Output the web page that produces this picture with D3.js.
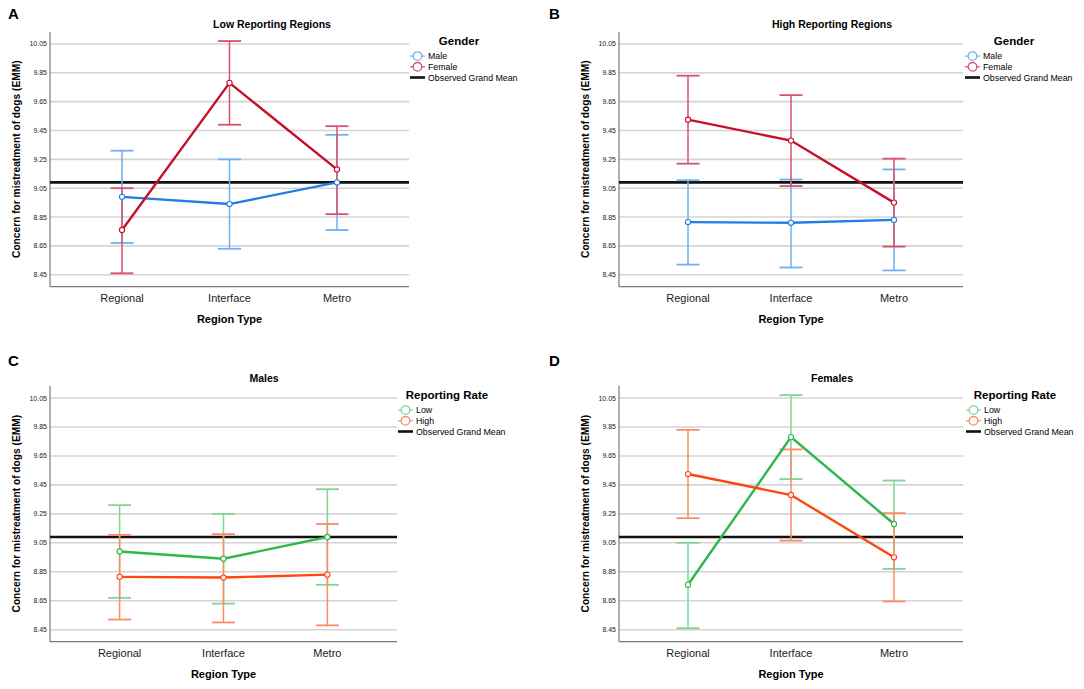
<!DOCTYPE html>
<html>
<head>
<meta charset="utf-8">
<script src="https://cdn.jsdelivr.net/npm/d3@7"></script>
<style>
  body { margin: 0; background: #fff; }
  svg { display: block; font-family: "Liberation Sans", Arial, sans-serif; }
</style>
</head>
<body>
<div id="chart"></div>
<script>
// categories and ticks
var regions = ["Regional", "Interface", "Metro"]
var yTicks = [8.45, 8.65, 8.85, 9.05, 9.25, 9.45, 9.65, 9.85, 10.05]
var grandMean = 9.09

// estimated marginal means with 95% CI
var lowMaleMean = [8.99, 8.94, 9.09]
var lowMaleLower = [8.67, 8.63, 8.76]
var lowMaleUpper = [9.31, 9.25, 9.42]

var lowFemaleMean = [8.76, 9.78, 9.18]
var lowFemaleLower = [8.46, 9.49, 8.87]
var lowFemaleUpper = [9.05, 10.07, 9.48]

var highMaleMean = [8.815, 8.81, 8.83]
var highMaleLower = [8.52, 8.50, 8.48]
var highMaleUpper = [9.105, 9.11, 9.18]

var highFemaleMean = [9.525, 9.38, 8.95]
var highFemaleLower = [9.22, 9.065, 8.645]
var highFemaleUpper = [9.83, 9.695, 9.255]

var blue = { line: "#1f7fe3", bar: "#6fb0ee" }
var red = { line: "#c80f2a", bar: "#d9506a" }
var green = { line: "#2eb84c", bar: "#7ed594" }
var orange = { line: "#ff4510", bar: "#ff8a63" }

function series(name, mean, lower, upper, col) {
    return {
        name: name,
        col: col,
        points: regions.map((r, i) => ({ region: r, mean: mean[i], lower: lower[i], upper: upper[i] }))
    }
}

var panels = [
    { letter: "A", lx: 8, ly: 19, x0: 50, x1: 409, y0: 31.7, y1: 286.7, title: "Low Reporting Regions", tx: 272,
      legTitle: "Gender", legX: 410,
      series: [series("Male", lowMaleMean, lowMaleLower, lowMaleUpper, blue),
               series("Female", lowFemaleMean, lowFemaleLower, lowFemaleUpper, red)] },
    { letter: "B", lx: 549, ly: 19, x0: 619, x1: 963, y0: 31.7, y1: 286.7, title: "High Reporting Regions", tx: 832,
      legTitle: "Gender", legX: 965,
      series: [series("Male", highMaleMean, highMaleLower, highMaleUpper, blue),
               series("Female", highFemaleMean, highFemaleLower, highFemaleUpper, red)] },
    { letter: "C", lx: 8, ly: 366, x0: 50, x1: 397, y0: 385.7, y1: 641.7, title: "Males", tx: 264,
      legTitle: "Reporting Rate", legX: 398,
      series: [series("Low", lowMaleMean, lowMaleLower, lowMaleUpper, green),
               series("High", highMaleMean, highMaleLower, highMaleUpper, orange)] },
    { letter: "D", lx: 549, ly: 366, x0: 619, x1: 963, y0: 385.7, y1: 641.7, title: "Females", tx: 832,
      legTitle: "Reporting Rate", legX: 966,
      series: [series("Low", lowFemaleMean, lowFemaleLower, lowFemaleUpper, green),
               series("High", highFemaleMean, highFemaleLower, highFemaleUpper, orange)] }
]

var svg = d3.select("#chart").append("svg")
            .attr("width", 1084)
            .attr("height", 689)

panels.forEach(p => drawPanel(svg, p))

function drawPanel(svg, p) {
    var x = d3.scalePoint().domain(regions).range([p.x0, p.x1]).padding(0.67)
    var y = d3.scaleLinear().domain([8.367, 10.135]).range([p.y1, p.y0])
    var g = svg.append("g")

    g.append("text").text(p.letter)
        .attr("x", p.lx).attr("y", p.ly)
        .attr("font-size", 15).attr("font-weight", "bold")

    g.append("text").text(p.title)
        .attr("x", p.tx).attr("y", p.y0 - 3.5)
        .attr("text-anchor", "middle")
        .attr("font-size", 10.5).attr("font-weight", "bold")

    // gridlines
    g.selectAll(".grid").data(yTicks).join("line")
        .attr("x1", p.x0).attr("x2", p.x1)
        .attr("y1", d => y(d)).attr("y2", d => y(d))
        .attr("stroke", "#d4d4d4").attr("stroke-width", 1.6)

    // y tick labels
    g.selectAll(".ytick").data(yTicks).join("text")
        .text(d => d3.format(".2f")(d))
        .attr("x", p.x0 - 3).attr("y", d => y(d) + 2.5)
        .attr("text-anchor", "end")
        .attr("font-size", 7).attr("fill", "#222")

    // axes
    g.append("line")
        .attr("x1", p.x0).attr("x2", p.x0).attr("y1", p.y0).attr("y2", p.y1)
        .attr("stroke", "#7a7a7a").attr("stroke-width", 1.2)
    g.append("line")
        .attr("x1", p.x0).attr("x2", p.x1).attr("y1", p.y1).attr("y2", p.y1)
        .attr("stroke", "#7a7a7a").attr("stroke-width", 1.2)

    g.selectAll(".xtick").data(regions).join("text")
        .text(d => d)
        .attr("x", d => x(d)).attr("y", p.y1 + 15)
        .attr("text-anchor", "middle")
        .attr("font-size", 11).attr("fill", "#222")

    g.append("text").text("Region Type")
        .attr("x", (p.x0 + p.x1) / 2).attr("y", p.y1 + 36.5)
        .attr("text-anchor", "middle")
        .attr("font-size", 11).attr("font-weight", "bold")

    g.append("text").text("Concern for mistreatment of dogs (EMM)")
        .attr("transform", "translate(" + (p.x0 - 30.5) + "," + ((p.y0 + p.y1) / 2) + ") rotate(-90)")
        .attr("text-anchor", "middle")
        .attr("font-size", 10.2).attr("font-weight", "bold")

    // grand mean
    g.append("line")
        .attr("x1", p.x0).attr("x2", p.x1)
        .attr("y1", y(grandMean)).attr("y2", y(grandMean))
        .attr("stroke", "#111").attr("stroke-width", 2.6)

    // error bars
    p.series.forEach(s => {
        var eb = g.append("g")
        eb.selectAll(".stem").data(s.points).join("line")
            .attr("x1", d => x(d.region)).attr("x2", d => x(d.region))
            .attr("y1", d => y(d.lower)).attr("y2", d => y(d.upper))
            .attr("stroke", s.col.bar).attr("stroke-width", 1.5)
        eb.selectAll(".capU").data(s.points).join("line")
            .attr("x1", d => x(d.region) - 11.5).attr("x2", d => x(d.region) + 11.5)
            .attr("y1", d => y(d.upper)).attr("y2", d => y(d.upper))
            .attr("stroke", s.col.bar).attr("stroke-width", 1.8)
        eb.selectAll(".capL").data(s.points).join("line")
            .attr("x1", d => x(d.region) - 11.5).attr("x2", d => x(d.region) + 11.5)
            .attr("y1", d => y(d.lower)).attr("y2", d => y(d.lower))
            .attr("stroke", s.col.bar).attr("stroke-width", 1.8)
    })

    // mean lines and markers
    var line = d3.line().x(d => x(d.region)).y(d => y(d.mean))
    p.series.forEach(s => {
        g.append("path").datum(s.points)
            .attr("d", line)
            .attr("fill", "none")
            .attr("stroke", s.col.line).attr("stroke-width", 2.4)
        g.selectAll(".pt").data(s.points).join("circle")
            .attr("cx", d => x(d.region)).attr("cy", d => y(d.mean))
            .attr("r", 2.6)
            .attr("fill", "#fff")
            .attr("stroke", s.col.line).attr("stroke-width", 1.1)
    })

    // legend
    var lg = g.append("g").attr("transform", "translate(" + p.legX + "," + p.y0 + ")")
    lg.append("text").text(p.legTitle)
        .attr("x", 49).attr("y", 13.3)
        .attr("text-anchor", "middle")
        .attr("font-size", 11.5).attr("font-weight", "bold")
    var rows = [24.4, 35.1]
    p.series.forEach((s, i) => {
        lg.append("line")
            .attr("x1", 0).attr("x2", 15).attr("y1", rows[i]).attr("y2", rows[i])
            .attr("stroke", s.col.bar).attr("stroke-width", 1.2)
        lg.append("circle")
            .attr("cx", 7.5).attr("cy", rows[i]).attr("r", 4.3)
            .attr("fill", "#fff").attr("stroke", s.col.bar).attr("stroke-width", 1.3)
        lg.append("text").text(s.name)
            .attr("x", 18).attr("y", rows[i] + 3.2)
            .attr("font-size", 8.8)
    })
    lg.append("line")
        .attr("x1", 0).attr("x2", 15).attr("y1", 45.8).attr("y2", 45.8)
        .attr("stroke", "#111").attr("stroke-width", 2.6)
    lg.append("text").text("Observed Grand Mean")
        .attr("x", 18).attr("y", 45.8 + 3.2)
        .attr("font-size", 8.8)
}
</script>
</body>
</html>
